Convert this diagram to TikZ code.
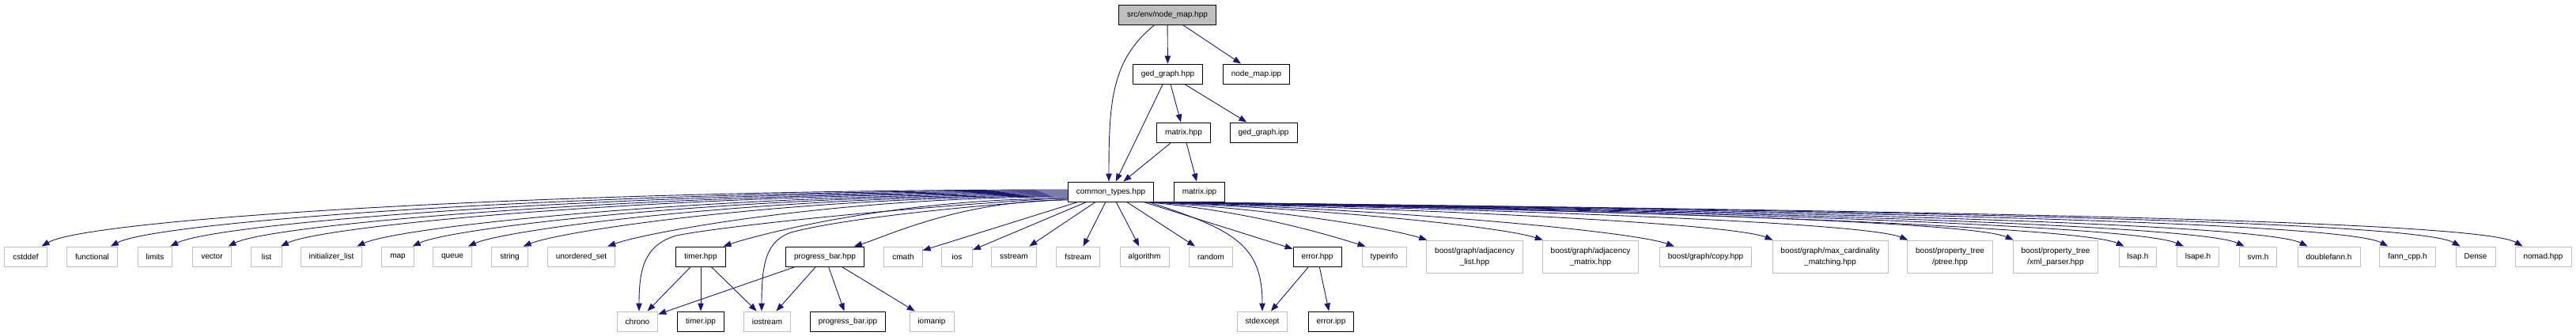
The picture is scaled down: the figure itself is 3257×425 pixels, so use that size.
\documentclass[tikz,border=0pt]{standalone}
\usepackage{fontspec}
\setmainfont{Liberation Sans}
\usetikzlibrary{arrows.meta}

\tikzset{
  filebox/.style={draw=black, line width=0.9pt, fill=white, minimum height=25pt, minimum width=39pt,
    inner xsep=10.5pt, inner ysep=0pt, font=\fontsize{10}{14}\selectfont, align=center},
  sysbox/.style={filebox, draw=sysgray},
  tallbox/.style={sysbox, minimum height=41pt},
  rootbox/.style={filebox, fill=rootgray},
  incl/.style={draw=edgeblue, line width=0.9pt, -{Triangle[length=10pt,width=7.5pt]}}
}

\begin{document}
\begin{tikzpicture}[x=1pt, y=-1pt]

% Define colors
\definecolor{edgeblue}{RGB}{25,25,112}
\definecolor{sysgray}{RGB}{191,191,191}
\definecolor{rootgray}{RGB}{191,191,191}

\useasboundingbox (0,0) rectangle (3257,425);

% Draw the project headers
\node[rootbox] (nodemap) at (1476,18.5) {src/env/node\_map.hpp};
\node[filebox] (gedgraph) at (1476.5,93.5) {ged\_graph.hpp};
\node[filebox] (nodemapipp) at (1588.5,93.5) {node\_map.ipp};
\node[filebox] (matrix) at (1496.5,167.5) {matrix.hpp};
\node[filebox] (gedgraphipp) at (1597.5,167.5) {ged\_graph.ipp};
\node[filebox] (common) at (1404.5,242.5) {common\_types.hpp};
\node[filebox] (matrixipp) at (1516.5,242.5) {matrix.ipp};

% Draw the included files
\node[sysbox] (cstddef) at (32.5,324.5) {cstddef};
\node[sysbox] (functional) at (116.5,324.5) {functional};
\node[sysbox] (limits) at (196,324.5) {limits};
\node[sysbox] (vector) at (268,324.5) {vector};
\node[sysbox] (list) at (337,324.5) {list};
\node[sysbox] (initlist) at (419,324.5) {initializer\_list};
\node[sysbox] (map) at (503,324.5) {map};
\node[sysbox] (queue) at (572,324.5) {queue};
\node[sysbox] (string) at (644.5,324.5) {string};
\node[sysbox] (uset) at (735,324.5) {unordered\_set};
\node[filebox] (timer) at (886,324.5) {timer.hpp};
\node[filebox] (progress) at (1043,324.5) {progress\_bar.hpp};
\node[sysbox] (cmath) at (1142,324.5) {cmath};
\node[sysbox] (ios) at (1210,324.5) {ios};
\node[sysbox] (sstream) at (1282,324.5) {sstream};
\node[sysbox] (fstream) at (1363,324.5) {fstream};
\node[sysbox] (algorithm) at (1447,324.5) {algorithm};
\node[sysbox] (random) at (1531,324.5) {random};
\node[filebox] (error) at (1665.5,324.5) {error.hpp};
\node[sysbox] (typeinfo) at (1750,324.5) {typeinfo};
\node[tallbox] (adjlist) at (1864.5,324.5) {boost/graph/adjacency\\\_list.hpp};
\node[tallbox] (adjmatrix) at (2011,324.5) {boost/graph/adjacency\\\_matrix.hpp};
\node[sysbox] (copy) at (2156.5,324.5) {boost/graph/copy.hpp};
\node[tallbox] (maxcard) at (2314,324.5) {boost/graph/max\_cardinality\\\_matching.hpp};
\node[tallbox] (ptree) at (2465.5,324.5) {boost/property\_tree\\/ptree.hpp};
\node[tallbox] (xmlparser) at (2599,324.5) {boost/property\_tree\\/xml\_parser.hpp};
\node[sysbox] (lsap) at (2703,324.5) {lsap.h};
\node[sysbox] (lsape) at (2779,324.5) {lsape.h};
\node[sysbox] (svm) at (2855,324.5) {svm.h};
\node[sysbox] (doublefann) at (2944.5,324.5) {doublefann.h};
\node[sysbox] (fanncpp) at (3044,324.5) {fann\_cpp.h};
\node[sysbox] (dense) at (3130,324.5) {Dense};
\node[sysbox] (nomad) at (3215.5,324.5) {nomad.hpp};

\node[sysbox] (chrono) at (806,406.5) {chrono};
\node[filebox] (timeripp) at (886,406.5) {timer.ipp};
\node[sysbox] (iostream) at (970,406.5) {iostream};
\node[filebox] (progressipp) at (1072,406.5) {progress\_bar.ipp};
\node[sysbox] (iomanip) at (1178,406.5) {iomanip};
\node[sysbox] (stdexcept) at (1596,406.5) {stdexcept};
\node[filebox] (erroripp) at (1683,406.5) {error.ipp};

% Draw the upper includes
\draw[incl] (nodemap) -- (gedgraph);
\draw[incl] (nodemap) -- (nodemapipp);
\draw[incl] ([xshift=-16pt]nodemap.south) .. controls +(-55,44) and +(0,-100) .. ([xshift=-2.5pt]common.north);
\draw[incl] (gedgraph) -- (common);
\draw[incl] (gedgraph) -- (matrix);
\draw[incl] (gedgraph) -- (gedgraphipp);
\draw[incl] (matrix) -- (common);
\draw[incl] (matrix) -- (matrixipp);

% Draw the includes to the left
\draw[incl] ([yshift=2.5pt]common.west) .. controls +(-648,0) and +(60,-35) .. ([xshift=-7pt]cstddef.north east);
\draw[incl] ([yshift=1.5pt]common.west) .. controls +(-605,0) and +(60,-32) .. ([xshift=-9pt]functional.north east);
\draw[incl] ([yshift=0.5pt]common.west) .. controls +(-567,0) and +(60,-30) .. ([xshift=-3pt]limits.north east);
\draw[incl] ([yshift=-0.5pt]common.west) .. controls +(-530,0) and +(55,-28) .. ([xshift=-4pt]vector.north east);
\draw[incl] ([yshift=-1.5pt]common.west) .. controls +(-498,0) and +(55,-27) .. ([xshift=-2pt]list.north east);
\draw[incl] ([yshift=-2.5pt]common.west) .. controls +(-450,0) and +(55,-25) .. ([xshift=-7pt]initlist.north east);
\draw[incl] ([yshift=-3.5pt]common.west) .. controls +(-414,0) and +(50,-24) .. ([xshift=-2pt]map.north east);
\draw[incl] ([yshift=-4.5pt]common.west) .. controls +(-379,0) and +(50,-22) .. ([xshift=-5pt]queue.north east);
\draw[incl] ([yshift=-5.5pt]common.west) .. controls +(-344,0) and +(50,-20) .. ([xshift=-6pt]string.north east);
\draw[incl] ([yshift=-6.5pt]common.west) .. controls +(-291,0) and +(50,-18) .. ([xshift=-10pt]uset.north east);
\draw[incl] ([yshift=-7.5pt]common.west) .. controls +(-200,12) and +(65,-13) .. (855,298)
  .. controls +(-40,12) and +(0,-54) .. ([xshift=2pt]chrono.north);
\draw[incl] ([yshift=-8.5pt]common.west) .. controls +(-218,0) and +(45,-15) .. ([xshift=-3pt]timer.north east);
\draw[incl] ([yshift=-9.5pt]common.west) .. controls +(-150,10) and +(60,-16) .. (1000,294)
  .. controls +(-30,11) and +(0,-64) .. ([xshift=-7pt]iostream.north);
\draw[incl] ([yshift=-10.5pt]common.west) .. controls +(-135,0) and +(40,-12) .. ([xshift=-13pt]progress.north east);

% Draw the includes below
\draw[incl] (common) -- (cmath);
\draw[incl] (common) -- (ios);
\draw[incl] (common) -- (sstream);
\draw[incl] (common) -- (fstream);
\draw[incl] (common) -- (algorithm);
\draw[incl] (common) -- (random);
\draw[incl] ([xshift=-7pt]common.south east) .. controls +(108,35) and +(0,-84) .. (stdexcept.north);
\draw[incl] (common) -- (error);

% Draw the includes to the right
\draw[incl] ([xshift=-12pt]common.south east) .. controls +(140,12) and +(-40,-12) .. ([xshift=5pt]typeinfo.north west);
\draw[incl] ([xshift=-11pt]common.south east) .. controls +(178,10) and +(-45,-14) .. ([xshift=1pt]adjlist.north west);
\draw[incl] ([xshift=-10pt]common.south east) .. controls +(250,10) and +(-50,-16) .. ([xshift=1pt]adjmatrix.north west);
\draw[incl] ([xshift=-9pt]common.south east) .. controls +(334,10) and +(-50,-18) .. ([xshift=19pt]copy.north west);
\draw[incl] ([xshift=-8pt]common.south east) .. controls +(394,10) and +(-50,-20) .. ([xshift=1pt]maxcard.north west);
\draw[incl] ([xshift=-7pt]common.south east) .. controls +(480,10) and +(-55,-22) .. ([xshift=1pt]ptree.north west);
\draw[incl] ([xshift=-6pt]common.south east) .. controls +(546,10) and +(-55,-24) .. ([xshift=1pt]xmlparser.north west);
\draw[incl] ([xshift=-5pt]common.south east) .. controls +(615,10) and +(-55,-25) .. ([xshift=7pt]lsap.north west);
\draw[incl] ([xshift=-4pt]common.south east) .. controls +(652,10) and +(-60,-27) .. ([xshift=9pt]lsape.north west);
\draw[incl] ([xshift=-3.5pt]common.south east) .. controls +(691,10) and +(-60,-28) .. ([xshift=7pt]svm.north west);
\draw[incl] ([xshift=-3pt]common.south east) .. controls +(731,10) and +(-60,-30) .. ([xshift=13pt]doublefann.north west);
\draw[incl] ([xshift=-2.5pt]common.south east) .. controls +(781,10) and +(-60,-32) .. ([xshift=11pt]fanncpp.north west);
\draw[incl] ([xshift=-2pt]common.south east) .. controls +(826,10) and +(-60,-34) .. ([xshift=6pt]dense.north west);
\draw[incl] ([xshift=-1.5pt]common.south east) .. controls +(866,10) and +(-60,-35) .. ([xshift=10pt]nomad.north west);

% Draw the lower includes
\draw[incl] (timer) -- (chrono);
\draw[incl] (timer) -- (timeripp);
\draw[incl] (timer) -- (iostream);
\draw[incl] (progress) -- (chrono);
\draw[incl] (progress) -- (iostream);
\draw[incl] (progress) -- (progressipp);
\draw[incl] (progress) -- (iomanip);
\draw[incl] (error) -- (stdexcept);
\draw[incl] (error) -- (erroripp);

\end{tikzpicture}
\end{document}
